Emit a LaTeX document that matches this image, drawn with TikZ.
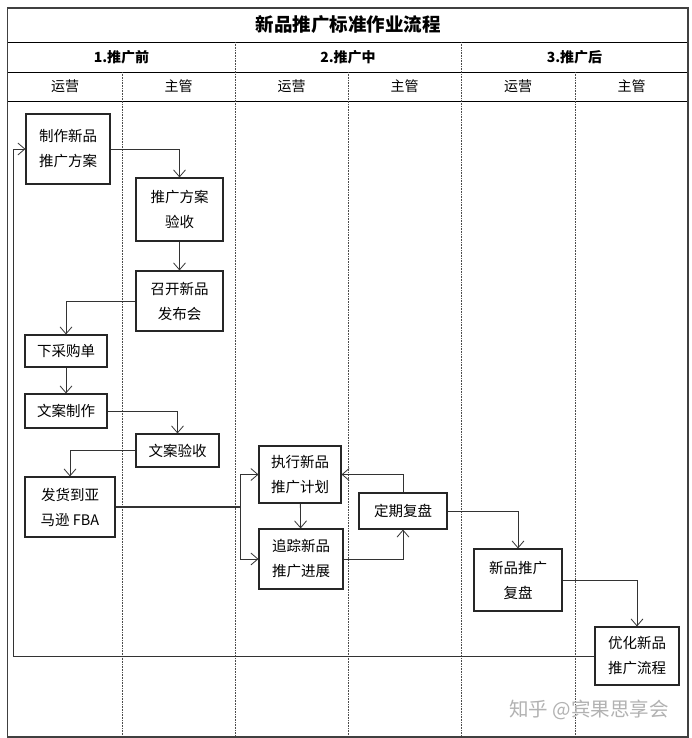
\documentclass[tikz,border=0pt]{standalone}
\usepackage{fontspec}
\setmainfont{Noto Sans CJK SC}
\usetikzlibrary{arrows.meta}

\begin{document}
\begin{tikzpicture}[
        x=1pt, y=-1pt,
        box/.style={draw=black!85, line width=1.1pt, align=center, inner sep=0pt,
            font=\fontsize{14.5}{25}\selectfont},
        flow/.style={draw=black!80, line width=0.8pt, -{Straight Barb[length=7pt,width=12pt]}},
        lane/.style={draw=black!70, densely dotted, line width=0.6pt},
        rowline/.style={draw=black, line width=0.8pt},
        head/.style={font=\fontsize{14}{16}\selectfont}
    ]
        \useasboundingbox (0,0) rectangle (691,738);
        \fill[white] (0,0) rectangle (691,738);

        \draw[rowline] (7.5,42) -- (688,42);
        \draw[rowline] (7.5,72) -- (688,72);
        \draw[rowline] (7.5,101) -- (688,101);
        \foreach \x in {235,461}
            \draw[lane] (\x,42) -- (\x,736);
        \foreach \x in {122,348,575}
            \draw[lane] (\x,72) -- (\x,736);
        \draw[draw=black!75, line width=1.3pt] (7.5,8) rectangle (688,737);

        \node[font=\fontsize{18.5}{20}\selectfont\bfseries] (title) at (348,25) {新品推广标准作业流程};
        \node[head, font=\fontsize{14}{16}\selectfont\bfseries] (pre) at (121.5,57) {1.推广前};
        \node[head, font=\fontsize{14}{16}\selectfont\bfseries] (mid) at (348,57) {2.推广中};
        \node[head, font=\fontsize{14}{16}\selectfont\bfseries] (post) at (574.5,57) {3.推广后};
        \node[head] (opA) at (65,86.5) {运营};
        \node[head] (mgA) at (178.5,86.5) {主管};
        \node[head] (opB) at (291.5,86.5) {运营};
        \node[head] (mgB) at (404.5,86.5) {主管};
        \node[head] (opC) at (518,86.5) {运营};
        \node[head] (mgC) at (631.5,86.5) {主管};

        \node[box, minimum width=84pt, minimum height=70pt] (plan) at (68,149) {制作新品\\推广方案};
        \node[box, minimum width=87pt, minimum height=63pt] (check) at (179.5,209.5) {推广方案\\验收};
        \node[box, minimum width=87pt, minimum height=60pt] (launch) at (179.5,301) {召开新品\\发布会};
        \node[box, minimum width=82pt, minimum height=32pt] (order) at (66,351) {下采购单};
        \node[box, minimum width=82pt, minimum height=34pt] (copy) at (66,411) {文案制作};
        \node[box, minimum width=83pt, minimum height=33pt] (copychk) at (177.5,450.5) {文案验收};
        \node[box, minimum width=90pt, minimum height=60pt] (ship) at (70,507) {发货到亚\\马逊 FBA};
        \node[box, minimum width=82pt, minimum height=57pt] (exec) at (300,474.5) {执行新品\\推广计划};
        \node[box, minimum width=84pt, minimum height=60pt] (track) at (301,559) {追踪新品\\推广进展};
        \node[box, minimum width=88pt, minimum height=36pt] (review) at (403,511) {定期复盘};
        \node[box, minimum width=88pt, minimum height=62pt] (recap) at (518,580) {新品推广\\复盘};
        \node[box, minimum width=84pt, minimum height=58pt] (optim) at (637,656) {优化新品\\推广流程};

        \coordinate (split) at (240,507);
        \coordinate (back) at (13,656);

        \draw[flow] (plan.east) -| (check.north);
        \draw[flow] (check) -- (launch);
        \draw[flow] (launch.west) -| (order.north);
        \draw[flow] (order) -- (copy);
        \draw[flow] (copy.east) -| (copychk.north);
        \draw[flow] (copychk.west) -| (ship.north);
        \draw[draw=black!80, line width=1.6pt] (ship.east) -- (split);
        \draw[flow] (split) |- (exec.west);
        \draw[flow] (split) |- (track.west);
        \draw[flow] (exec) -- (track);
        \draw[flow] (track.east) -| (review.south);
        \draw[flow] (review.north) |- (exec.east);
        \draw[flow] (review.east) -| (recap.north);
        \draw[flow] (recap.east) -| (optim.north);
        \draw[flow] (optim.west) -- (back) |- (plan.west);

        \node[text=black!30, font=\fontsize{19.5}{22}\selectfont] (mark) at (589,710) {知乎 @宾果思享会};
    \end{tikzpicture}
\end{document}
